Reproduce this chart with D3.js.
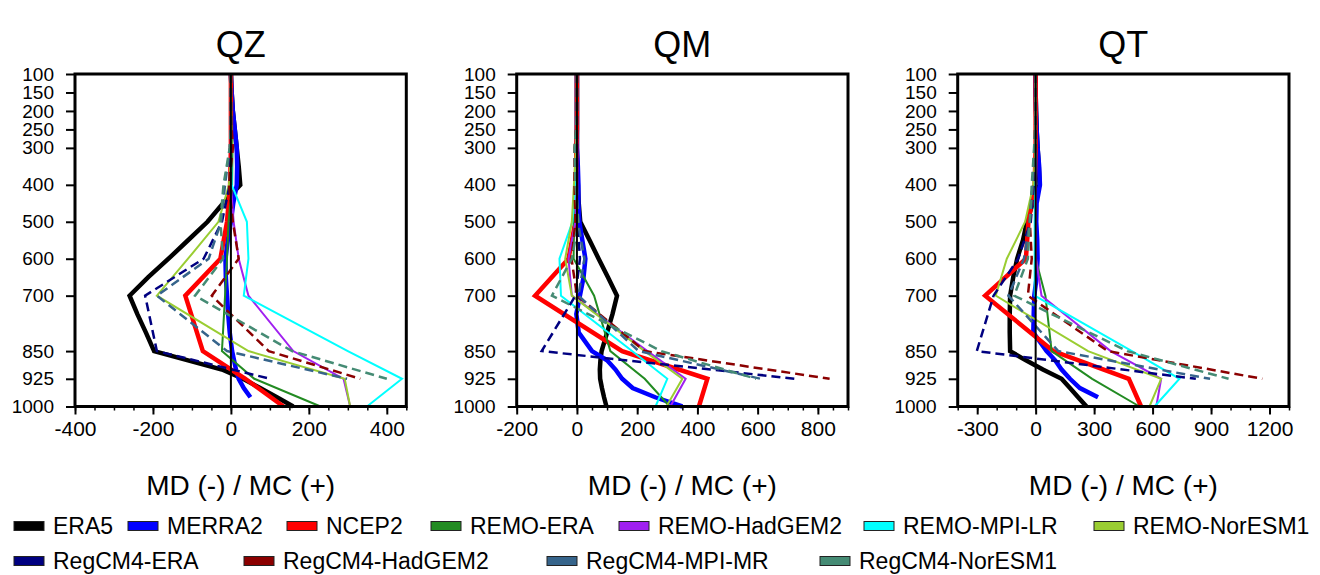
<!DOCTYPE html>
<html>
<head>
<meta charset="utf-8">
<script src="https://cdn.jsdelivr.net/npm/d3@7/dist/d3.min.js"></script>
<style>
body { margin: 0; background: #fff; }
text { font-family: "Liberation Sans", Arial, sans-serif; fill: #000; }
</style>
</head>
<body>
<script>
const width = 1320;
const height = 575;

// pressure levels (hPa)
const levels = [100, 150, 200, 250, 300, 400, 500, 600, 700, 850, 925, 1000];
const levelsFine = [100, 150, 200, 250, 300, 350, 400, 450, 500, 550, 600, 650, 700, 750, 800, 850, 875, 900, 925, 950, 975, 1000];
const levelsRegCM = [100, 150, 200, 250, 300, 400, 500, 600, 700, 850, 925];
const yTicks = [100, 150, 200, 250, 300, 400, 500, 600, 700, 850, 925, 1000];

// ---- QZ ----
const qzERA5 = [0, 2, 5, 10, 15, 20, 24, -20, -60, -110, -160, -212, -260, -240, -218, -197, -110, -23, 31, 75, 118, 160];
const qzMERRA2 = [0, 2, 5, 10, 15, 16, 15, 6, 0, -8, -14, -13, -10, -7, -3, 3, 8, 13, 20, 33, 50, null];
const qzNCEP2 = [0, 0, 0, 0, 0, -2, -10, -27, -117, -72, 37, 135];
const qzREMO_ERA = [0, 0, 1, 2, 4, 3, -6, -10, -15, -23, 60, 230];
const qzREMO_Had = [0, 0, 0, 0, 0, 0, 7, 20, 45, 160, 289, 306];
const qzREMO_MPI = [0, 0, 0, 0, 0, 2, 41, 45, 33, 300, 439, 349];
const qzREMO_Nor = [0, 0, 0, 0, 2, -5, -32, -110, -190, 45, 292, 306];
const qzReg_ERA = [0, 0, 0, 0, 0, -3, -23, -70, -220, -190, 101];
const qzReg_Had = [0, 0, 0, 2, 5, -5, 5, 20, -49, 97, 332];
const qzReg_MPI = [0, 0, 0, 0, -3, -15, -25, -57, -190, -10, 298];
const qzReg_Nor = [0, 0, 0, 0, -3, -19, -27, -20, -92, 157, 400];

// ---- QM ----
const qmERA5 = [0, 0, 0, 0, 0, 1, 3, 6, 11, 42, 72, 103, 133, 118, 100, 82, 78, 76, 77, 83, 90, 98];
const qmMERRA2 = [0, 0, 0, 0, 0, 3, 5, 5, 8, 18, 28, 22, 10, -2, 6, 50, 100, 128, 150, 185, 260, 350];
const qmNCEP2 = [0, 0, 0, 0, -2, -3, -5, -28, -139, 150, 433, 405];
const qmREMO_ERA = [0, 0, 0, 0, -2, -5, -10, -11, 57, 111, 225, 308];
const qmREMO_Had = [0, 0, 0, 0, -2, -3, -5, -28, -17, 234, 361, 310];
const qmREMO_MPI = [0, 0, 0, 0, -2, -5, -15, -58, -53, 183, 300, 261];
const qmREMO_Nor = [0, 0, 0, 0, -3, -10, -17, -39, -17, 225, 350, 297];
const qmReg_ERA = [0, 0, 0, 0, 0, 0, 2, 10, -5, -117, 725];
const qmReg_Had = [0, 0, 0, -3, -8, -8, -5, -18, 0, 225, 839];
const qmReg_MPI = [0, 0, 0, 0, -2, 0, 3, 25, 5, 205, 610];
const qmReg_Nor = [0, 0, 0, -3, -8, -5, 5, -17, -83, 280, 595];

// ---- QT ----
const qtERA5 = [0, 0, 2, 5, 10, 16, 20, -15, -45, -65, -95, -115, -131, -133, -133, -131, -50, 37, 133, 176, 218, 261];
const qtMERRA2 = [0, 0, 2, 5, 10, 18, 22, 5, 3, 8, 10, 5, -7, -10, -12, 56, 100, 133, 176, 227, 320, null];
const qtNCEP2 = [0, 0, 0, 0, 0, -5, -37, -50, -259, 90, 478, 541];
const qtREMO_ERA = [0, 0, 0, 0, 0, 0, 0, 0, 50, 82, 290, 533];
const qtREMO_Had = [0, 0, 0, 0, 0, 0, 0, 2, 30, 385, 644, 619];
const qtREMO_MPI = [0, 0, 0, 0, 0, -3, -5, -5, -5, 494, 738, 610];
const qtREMO_Nor = [0, 0, 0, 0, 0, -12, -54, -148, -205, 269, 644, 584];
const qtReg_ERA = [0, 0, 0, 0, -3, -10, -25, -90, -216, -302, 822];
const qtReg_Had = [0, 0, 0, -3, -5, -15, -30, -20, -40, 370, 1163];
const qtReg_MPI = [0, 0, 0, 0, -3, -15, -30, -60, -140, 116, 895];
const qtReg_Nor = [0, 0, 0, -3, -8, -20, -30, -40, -110, 470, 990];

// series order, names, styles
const seriesNames = ['ERA5', 'MERRA2', 'NCEP2', 'REMO-ERA', 'REMO-HadGEM2', 'REMO-MPI-LR', 'REMO-NorESM1',
  'RegCM4-ERA', 'RegCM4-HadGEM2', 'RegCM4-MPI-MR', 'RegCM4-NorESM1'];
const seriesColors = ['#000000', '#0000ff', '#ff0000', '#228b22', '#a020f0', '#00ffff', '#9acd32',
  '#000080', '#8b0000', '#36648b', '#458b74'];
const seriesLevels = [levelsFine, levelsFine, levels, levels, levels, levels, levels,
  levelsRegCM, levelsRegCM, levelsRegCM, levelsRegCM];
const seriesWidth = [4.5, 4.5, 4.5, 2, 2, 2, 2, 2.5, 2.5, 2.5, 2.5];
const seriesDash = [null, null, null, null, null, null, null, '9,5', '9,5', '9,5', '9,5'];

const panels = [
  { title: 'QZ', left: 75, domain: [-400, 450], major: d3.range(-400, 401, 200), minor: d3.range(-400, 451, 50),
    values: [qzERA5, qzMERRA2, qzNCEP2, qzREMO_ERA, qzREMO_Had, qzREMO_MPI, qzREMO_Nor, qzReg_ERA, qzReg_Had, qzReg_MPI, qzReg_Nor] },
  { title: 'QM', left: 516.7, domain: [-200, 900], major: d3.range(-200, 801, 200), minor: d3.range(-200, 901, 50),
    values: [qmERA5, qmMERRA2, qmNCEP2, qmREMO_ERA, qmREMO_Had, qmREMO_MPI, qmREMO_Nor, qmReg_ERA, qmReg_Had, qmReg_MPI, qmReg_Nor] },
  { title: 'QT', left: 957.7, domain: [-400, 1300], major: d3.range(-300, 1201, 300), minor: d3.range(-400, 1301, 100),
    values: [qtERA5, qtMERRA2, qtNCEP2, qtREMO_ERA, qtREMO_Had, qtREMO_MPI, qtREMO_Nor, qtReg_ERA, qtReg_Had, qtReg_MPI, qtReg_Nor] }
];

const plotW = 331.3;
const plotTop = 74;
const plotBottom = 406.5;

const svg = d3.select('body').append('svg').attr('width', width).attr('height', height);

const y = d3.scaleLinear().domain([100, 1000]).range([plotTop, plotBottom]);

panels.forEach((p) => {
  const x = d3.scaleLinear().domain(p.domain).range([p.left, p.left + plotW]);
  const g = svg.append('g');

  // data lines
  p.values.forEach((vals, k) => {
    const lev = seriesLevels[k];
    const pts = vals.map((v, j) => [v, lev[j]]);
    g.append('path')
      .datum(pts)
      .attr('d', d3.line().defined((d) => d[0] != null).x((d) => x(d[0])).y((d) => y(d[1])))
      .attr('fill', 'none')
      .attr('stroke', seriesColors[k])
      .attr('stroke-width', seriesWidth[k])
      .attr('stroke-dasharray', seriesDash[k])
      .attr('stroke-linejoin', 'miter');
  });

  // zero line
  g.append('line')
    .attr('x1', x(0)).attr('x2', x(0))
    .attr('y1', plotTop).attr('y2', plotBottom)
    .attr('stroke', '#000').attr('stroke-width', 2);

  // minor x ticks
  g.append('g')
    .attr('transform', `translate(0,${plotBottom})`)
    .call(d3.axisBottom(x).tickValues(p.minor).tickSize(4).tickFormat(''))
    .call((a) => a.select('.domain').remove())
    .selectAll('line').attr('stroke-width', 1.5);

  // major x ticks (plain hyphen minus like the original)
  const xa = g.append('g')
    .attr('transform', `translate(0,${plotBottom})`)
    .call(d3.axisBottom(x).tickValues(p.major).tickSize(8).tickPadding(7).tickFormat((d) => String(d)))
    .call((a) => a.select('.domain').remove());
  xa.selectAll('line').attr('stroke-width', 2);
  xa.selectAll('text').attr('font-size', 21).style('font-family', '"Liberation Sans", Arial, sans-serif');

  // y ticks
  const ya = g.append('g')
    .attr('transform', `translate(${p.left},0)`)
    .call(d3.axisLeft(y).tickValues(yTicks).tickSize(9).tickPadding(12).tickFormat((d) => String(d)))
    .call((a) => a.select('.domain').remove());
  ya.selectAll('line').attr('stroke-width', 2);
  ya.selectAll('text').attr('font-size', 19).style('font-family', '"Liberation Sans", Arial, sans-serif');

  // frame
  g.append('rect')
    .attr('x', p.left).attr('y', plotTop)
    .attr('width', plotW).attr('height', plotBottom - plotTop)
    .attr('fill', 'none').attr('stroke', '#000').attr('stroke-width', 3);

  // titles
  g.append('text')
    .attr('x', p.left + plotW / 2).attr('y', 57)
    .attr('text-anchor', 'middle').attr('font-size', 36)
    .text(p.title);

  g.append('text')
    .attr('x', p.left + plotW / 2).attr('y', 495)
    .attr('text-anchor', 'middle').attr('font-size', 28)
    .text('MD (-) / MC (+)');
});

// legend
const legendX = [14, 128, 287, 431, 619, 864, 1094, 14, 244, 547, 820];
const legendRow = [526, 526, 526, 526, 526, 526, 526, 561, 561, 561, 561];

const lg = svg.append('g')
  .selectAll('g')
  .data(seriesNames)
  .join('g')
  .attr('transform', (d, i) => `translate(${legendX[i]},${legendRow[i]})`);

lg.append('rect')
  .attr('x', 0).attr('y', -4.5)
  .attr('width', 30).attr('height', 9)
  .attr('fill', (d, i) => seriesColors[i])
  .attr('stroke', '#222').attr('stroke-width', 1);

lg.append('text')
  .attr('x', 39).attr('y', 8)
  .attr('font-size', 23)
  .text((d) => d);
</script>
</body>
</html>
